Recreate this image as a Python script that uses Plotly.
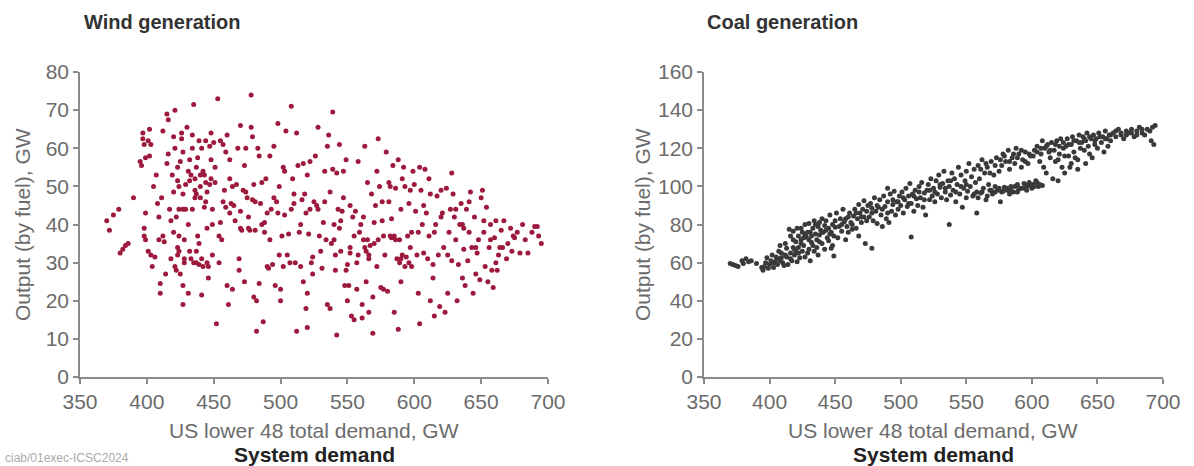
import plotly.graph_objects as go

# ---------------- Wind generation (demand GW, output GW) ----------------
wind_demand = [
370,372,375,379,380,382,384,386,390,395,396,397,397,398,398,398,399,399,399,
401,402,403,402,401,403,404,406,407,408,409,409,410,410,412,412,413,414,415,416,415,416,417,418,418,419,420,420,421,421,421,422,422,423,423,423,423,424,424,424,425,425,
426,426,427,427,427,427,428,428,429,429,430,431,431,432,432,433,433,434,434,434,435,435,436,436,437,437,437,438,438,439,439,439,440,440,441,441,442,442,443,443,444,444,445,445,446,446,447,447,448,448,449,449,449,450,
451,451,452,453,454,454,455,455,456,457,458,459,459,460,460,461,462,462,463,464,464,465,466,467,468,469,469,470,470,471,472,473,473,474,474,475,
476,477,478,478,479,479,480,480,481,482,482,483,484,484,485,486,487,488,488,489,490,490,491,492,493,494,495,495,496,497,498,499,499,500,500,
501,502,502,503,504,505,506,507,508,509,510,510,511,512,512,513,514,515,516,517,517,518,519,519,520,520,521,522,522,523,524,524,525,
526,527,528,529,530,531,532,533,534,535,535,536,537,537,538,539,539,540,541,541,542,542,543,544,544,545,546,547,547,548,549,549,550,550,
551,552,552,553,554,555,555,556,557,557,558,559,560,561,561,562,563,563,564,564,565,565,566,566,567,568,569,569,570,571,572,572,573,573,574,575,
576,577,577,578,579,580,581,581,582,583,583,584,585,585,586,587,588,588,589,589,590,590,591,591,592,593,594,595,596,596,597,598,598,599,600,
601,602,603,604,604,605,606,607,608,609,610,611,612,612,614,614,615,616,617,618,619,620,621,622,623,624,625,
626,627,628,628,629,630,631,632,633,634,635,636,637,637,638,639,640,641,642,643,644,645,646,647,648,649,650,
651,652,653,654,655,656,657,658,659,660,661,662,663,664,665,667,669,670,672,673,675,677,679,681,683,685,688,690,692,693,695,
405,411,420,427,431,436,440,444,448,432,437,441,445,428,424,457,462,470,476,481,486,492,498,503,508,515,520,528,533,540,
545,552,558,562,566,570,576,582,586,590,593,597,603,607,611,615,620,625,631,636,641,646,652,657,661,666,674,
]
wind_output = [
41,38.5,42.5,44,32.5,33.5,34.5,35,47,56.5,55.5,62.5,64,61,39,37,36,43,57.5,
62,65,61,58,33,32,29,31.5,53,45.5,36,42,24.5,22,64.5,37,35.5,27,69,67.5,56,58.5,44,31,41,53,48.5,63,70,60,29,28,42,55,51.5,34,32,50,44,33,56.5,27,
64,62.5,59,44,24,19,36,31,50.5,44,65.5,40,22,51.5,57,53,31,63.5,60,44,71.5,30,52,49,48,55,33,57.5,37,62,29.5,35,50,47,21.5,60,54,29,53,44.5,62,51,39,48.5,26,29,60.5,50.5,64,57,44,32,40,61.5,
51,55,14,73,37,30,62,40.5,36,61,49,44.5,59,63.5,24,19,57,52,45.5,50,23,45,41,50.5,60,31,28,66,43.5,38.5,49,55.5,25,60,48.5,47,
42,38.5,65.5,74,63,46.5,21,50.5,38.5,12,20,60,58,24.5,45.5,51,14.5,38,40.5,52,43,29,28.5,58,44,29.5,60.5,47,24,46,66.5,32,50,20,23,
37,29,55,42.5,64.5,32,37.5,30,71,52,45.5,48,30,64,12,55.5,38,40,46.5,56,25,48,43,18,22,13,37.5,56.5,44,30,27,31.5,46,
58,45,65.5,37,33,28.5,40.5,54,36,60.5,19,63.5,48.5,18,35,54.5,69.5,36,28,32,53.5,11,44,61,39,41,43.5,54,47,24,57,28,29.5,20,
24,34,32.5,16,42,37,15,43.5,30,23,56.5,38,40,19,15.5,42,60.5,34,33,25,51,36,17,31,34.5,48,11.5,21,40.5,45,54,29,62.5,36,50,23.5,
41,37,23,32,59,22.5,51,46,50,41.5,36.5,55.5,37,17,49.5,31,57,12.5,30,36,25,44,52,32,55,50,31.5,37,45.5,30,49,38,29,54,50.5,
43.5,32,22,14,55,49,40,32.5,54.5,43,31,37,48,20,29.5,26,16,40,47.5,32,18.5,49,43,34,17,49.5,22,
38,44,53.5,30.5,48,42,36,20,29.5,40,45.5,26,33.5,39,24,44,30.5,38,48.5,34,22,42,27,32.5,36,25.5,47,
49,38,29,44.5,25,34,40,28,23.5,36.5,41,28,32,34,38.5,41,31,35,39,33,36.5,38,32.5,40,36,32.5,38,39.5,39.5,37,35,
50,47,38,48,54,47,53,46,52,33,30,31,30,30,37,46,43,39,39,46,40,36,43,54,44,29,53,44,46,40,
33,45,32,36,32,35,46,37,36,31,29,34,38,45,52,38,42,32,44,40,46,34,41,36,30,34,37,
]

# ---------------- Coal generation (demand GW, output GW) ----------------
coal_demand = [
370,372,374,376,379,380,382,384,386,390,394,395,396,397,398,399,
400,401,402,403,404,405,406,407,408,408,409,410,411,412,412,413,414,415,416,416,417,418,418,419,420,420,421,422,422,423,424,424,425,425,
426,427,427,428,429,430,430,431,432,432,433,434,434,435,436,437,437,438,438,439,440,440,441,442,442,443,444,445,445,446,447,447,448,449,449,450,450,
451,452,453,454,455,456,457,458,459,460,460,461,462,463,464,465,466,467,468,468,469,470,471,472,472,473,474,475,
476,477,478,478,479,480,481,482,483,484,485,486,487,488,489,490,490,491,492,493,494,495,496,497,498,499,500,
501,502,503,504,505,506,507,508,508,509,510,511,512,513,514,515,516,517,518,519,520,521,522,523,524,525,
526,527,528,529,530,531,532,533,534,535,536,537,537,538,539,540,541,542,543,544,545,546,547,548,549,550,550,
551,552,553,554,555,556,557,558,558,559,560,561,562,563,564,565,566,567,568,569,570,571,572,573,574,575,
576,577,577,578,579,580,581,582,583,584,585,586,587,588,589,590,591,592,593,594,595,596,597,598,599,600,
601,602,603,604,605,606,607,608,609,610,611,612,613,614,615,616,617,618,619,620,621,622,623,624,625,
626,627,628,629,630,631,632,633,634,635,636,637,638,639,640,641,642,643,644,645,646,647,648,649,650,
651,653,654,655,656,657,658,659,660,662,664,666,668,670,672,674,676,678,680,682,684,686,688,690,691,692,693,694,
556,559,562,566,569,572,575,578,581,584,587,590,593,596,599,602,604,606,608,583,589,597,
561,565,568,572,576,579,583,586,589,592,595,598,601,604,607,611,614,618,621,624,
418,421,424,427,430,433,435,438,440,443,446,448,431,436,426,429,419,422,416,413,409,406,403,
455,458,463,466,470,474,478,482,486,490,494,498,502,506,510,514,518,522,526,530,534,538,542,546,550,
628,632,636,640,644,648,652,656,660,664,668,672,676,680,684,630,635,641,620,625,
]
coal_output = [
59.5,59,58.5,58,61,59.5,62,60.5,61,59.5,57.5,56,58,60,62.5,57,
59,61,64,57.5,60.5,63,59,66,69,61,62.5,60,58.5,64,70,67.5,59,77.5,74,65,61,68,76.5,64,71,66,60.5,74,68,62.5,78,72,66,76,
69,63,80,73.5,76,67,80.5,61,74,70.5,78,66,82,75,72,79,64,81,74.5,77,70,83,76,67,79.5,82,73,78,71.5,85,76,67.5,80,63.5,74,82,78.5,
86,73,79,83,76.5,88,81.5,72,79,84,76,86,81,77.5,84.5,88,78,83,90.5,74,86,81,88,84,92.5,70,87,90,
84,91,67.5,88.5,82,94,87,80.5,89,93,85,79,95,89.5,83,92,99,81,96,87,90.5,97.5,85,92,88,95,90,
97,86,93,99,89.5,95,101.5,73.5,91,96,87,98,93.5,90,100,94,102,89,96.5,85,98,101,93,104,95,99,
92,103,96,106,99.5,94,101.5,108,97,93,103,80,100,95.5,107,98,104,92,101,110,96,106,89,99,103,94,108,
97.5,112,100,105,95,109,102,86,97,111,104,96.5,114,99,107,93,110,101,98,113,96,106,100,115,98,108,
92,97,111,117,99.5,113,98,119,109,100,115,97,112,120,101,117,99,110,114,101.5,118,100,112,102,116,99,
101,119,103,121,100,113,117,124,110,120,107,122,118,115,123,104,119,113,124,103,117,125,110,120,107,
121,125,116,110,122,126,118,115,124,109,127,120,123,126,119,124,128,121,117,125,115,127,122,125,120,
128,123,126,118,129,125,121,127,124,128,126,130,127,125,129,128,130,126,129,131,128,127,130,129,124,131,122,132,
96,94,97,95,98,97,99,97.5,99,98,100,98.5,99,98,100.5,100,102,101,100.5,96,97,101,
109,112,107,111,114,116,113,117,115,119,113,117,116,118,120,121,119,122,121,123,
72,78,70,75,72,69,80,71,76,77,75,69,76,68,73,65,67,65,62,63,65,62,60,
80,83,80,86,84,82,86,90,88,86,93,92,94,91,95,97,93,98,97,101,99,103,97,100,101,
122,124,123,125,126,124,126,125,127,129,128,127,128,127,130,112,114,112,114,116,
]

x_ticks = [350, 400, 450, 500, 550, 600, 650, 700]
wind_y_ticks = [0, 10, 20, 30, 40, 50, 60, 70, 80]
coal_y_ticks = [0, 20, 40, 60, 80, 100, 120, 140, 160]

WIND_COLOR = "#9d1a3d"
COAL_COLOR = "#3a3a3a"
AXIS_GRAY = "#8a8a8a"
TICK_FONT = dict(family="Liberation Sans, Arial, sans-serif", size=21, color="#6b6b6b")

fig = go.Figure()
fig.add_trace(go.Scatter(x=wind_demand, y=wind_output, mode="markers",
                         marker=dict(color=WIND_COLOR, size=5, line=dict(width=0)),
                         xaxis="x", yaxis="y", showlegend=False))
fig.add_trace(go.Scatter(x=coal_demand, y=coal_output, mode="markers",
                         marker=dict(color=COAL_COLOR, size=5, line=dict(width=0)),
                         xaxis="x2", yaxis="y2", showlegend=False))

ax_common = dict(showline=True, linecolor=AXIS_GRAY, linewidth=1.5, ticks="outside",
                 ticklen=5, tickwidth=1.5, tickcolor=AXIS_GRAY, showgrid=False,
                 zeroline=False, tickfont=TICK_FONT, automargin=False)

y_dom = [89 / 466, 394 / 466]
fig.update_layout(
    width=1194, height=466,
    margin=dict(l=0, r=0, t=0, b=0, autoexpand=False),
    paper_bgcolor="white", plot_bgcolor="white",
    xaxis=dict(domain=[80 / 1194, 548 / 1194], range=[350, 700], tickvals=x_ticks,
               anchor="y", **ax_common),
    yaxis=dict(domain=y_dom, range=[0, 80], tickvals=wind_y_ticks, anchor="x", **ax_common),
    xaxis2=dict(domain=[704 / 1194, 1163 / 1194], range=[350, 700], tickvals=x_ticks,
                anchor="y2", **ax_common),
    yaxis2=dict(domain=y_dom, range=[0, 160], tickvals=coal_y_ticks, anchor="x2", **ax_common),
)

TXT = "Liberation Sans, Arial, sans-serif"
def ann(text, x, y, size, color, bold=False, angle=0, xanchor="center"):
    fig.add_annotation(text=f"<b>{text}</b>" if bold else text, x=x / 1194, y=1 - y / 466,
                       xref="paper", yref="paper", showarrow=False, textangle=angle,
                       xanchor=xanchor, yanchor="middle",
                       font=dict(family=TXT, size=size, color=color))

ann("Wind generation", 82, 22, 20, "#333333", bold=True, xanchor="left")
ann("Coal generation", 705, 22, 20, "#333333", bold=True, xanchor="left")
ann("US lower 48 total demand, GW", 314, 430, 21, "#6b6b6b")
ann("US lower 48 total demand, GW", 933, 430, 21, "#6b6b6b")
ann("System demand", 314, 454, 21, "#222222", bold=True)
ann("System demand", 933, 454, 21, "#222222", bold=True)
ann("Output (by fuel), GW", 22, 225, 21, "#6b6b6b", angle=-90)
ann("Output (by fuel), GW", 642, 225, 21, "#6b6b6b", angle=-90)
ann("ciab/01exec-ICSC2024", 3, 458, 12, "#aaaaaa", xanchor="left")

fig.write_html("out.html", config={"displayModeBar": False},
               post_script="document.body.style.margin='0';document.body.style.overflow='hidden';")
